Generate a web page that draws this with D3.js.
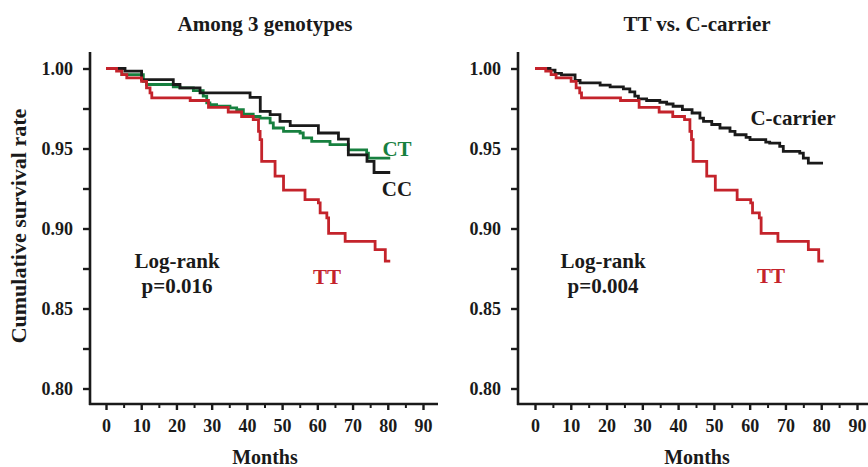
<!DOCTYPE html>
<html>
<head>
<meta charset="utf-8">
<script src="https://cdn.jsdelivr.net/npm/d3@7"></script>
<style>
  body { margin: 0; background: #fff; }
  text { font-family: "Liberation Serif", "Times New Roman", serif; font-weight: bold; fill: #1a1a1a; }
</style>
</head>
<body>
<svg id="chart" width="868" height="467"></svg>
<script>
// survival steps: [month, cumulative survival]
var ccSteps = [[0,1],[5.4,0.9983],[10.1,0.9931],[19.1,0.990],[21,0.9879],[26.7,0.9848],[40.9,0.982],
  [43.8,0.9732],[46.6,0.9712],[49.4,0.967],[52.3,0.9643],[60.3,0.9597],[66,0.9559],[68.8,0.946],
  [74.1,0.9419],[76.1,0.935],[80.7,0.935]];
var ctSteps = [[0,1],[4.5,0.9962],[10.6,0.992],[11.5,0.990],[19.1,0.9885],[21,0.9879],[24.8,0.9862],
  [27.6,0.9827],[28.6,0.9785],[29.5,0.9774],[31.4,0.9764],[35.2,0.9754],[37.1,0.9743],[39,0.9715],
  [41.8,0.970],[43.75,0.969],[46.6,0.966],[47.5,0.9628],[50.4,0.9607],[55.1,0.9597],[56,0.9566],
  [58.4,0.9545],[63.6,0.9524],[68.8,0.9492],[74,0.9471],[74.5,0.944],[80.7,0.944]];
var ttSteps = [[0,1],[3,0.9983],[4.5,0.9962],[5.9,0.9941],[10.1,0.992],[11.5,0.9879],[12.5,0.9848],
  [13,0.9816],[23.9,0.980],[29.1,0.9757],[34.7,0.9728],[38.5,0.970],[41.8,0.968],[43.3,0.9607],
  [43.75,0.9555],[44.2,0.942],[48,0.9327],[50.4,0.924],[56.5,0.918],[60.3,0.916],[60.8,0.9098],
  [62.7,0.9067],[63.2,0.897],[67.9,0.892],[76.4,0.8868],[79.3,0.8796],[80.7,0.8796]];
var carrierSteps = [[0,1],[4.2,0.999],[5.6,0.997],[7.4,0.996],[11.2,0.9925],[12.6,0.991],[18.2,0.9896],
  [21,0.9885],[24.7,0.9873],[26.5,0.9854],[27.9,0.9827],[28.9,0.981],[31.2,0.980],[34.9,0.9789],
  [36.8,0.9778],[38.6,0.9764],[41.2,0.9743],[43.9,0.9722],[46.1,0.969],[47.1,0.967],[49.4,0.965],
  [51.7,0.9628],[54.5,0.9607],[55.9,0.9586],[59,0.957],[60.1,0.9555],[64.5,0.954],[65.6,0.9534],
  [68.4,0.9513],[69.4,0.9482],[74,0.9471],[75,0.944],[76.4,0.9409],[80.5,0.9409]];

var xMajorTicks = [0,10,20,30,40,50,60,70,80,90];
var xMinorTicks = [5,15,25,35,45,55,65,75,85];
var yMajorTicks = [0.80,0.85,0.90,0.95,1.00];
var yMinorTicks = [0.825,0.875,0.925,0.975];

var red = "#c4232b", green = "#17803f", black = "#1a1a1a";

var svg = d3.select("#chart");

var y = d3.scaleLinear().domain([0.80, 1.00]).range([388.5, 68.5]);
var axisY = 404, axisTop = 52;

function panel(opt) {
  var x = d3.scaleLinear().domain([0, 90]).range(opt.xRange);
  var g = svg.append("g");

  // frame lines
  g.append("line").attr("x1", opt.axisX).attr("x2", opt.axisX)
    .attr("y1", axisTop).attr("y2", axisY + 1)
    .attr("stroke", black).attr("stroke-width", 2.6);
  g.append("line").attr("x1", opt.axisX - 1).attr("x2", opt.axisEnd)
    .attr("y1", axisY).attr("y2", axisY)
    .attr("stroke", black).attr("stroke-width", 2.6);

  // y axis ticks
  var ya = g.append("g").attr("transform", "translate(" + opt.axisX + ",0)")
    .call(d3.axisLeft(y).tickValues(yMajorTicks.concat(yMinorTicks)).tickSize(7)
      .tickFormat(function (d) { return yMajorTicks.indexOf(d) >= 0 ? d3.format(".2f")(d) : ""; }));
  ya.select(".domain").remove();
  ya.selectAll("line").attr("stroke", black).attr("stroke-width", 2.4);
  ya.selectAll("text").attr("x", -17).attr("dy", "0.35em").style("font-size", "18px")
    .attr("fill", black).style("font-family", "'Liberation Serif', serif");

  // x axis ticks
  var xa = g.append("g").attr("transform", "translate(0," + axisY + ")")
    .call(d3.axisBottom(x).tickValues(xMajorTicks).tickSize(6).tickPadding(9));
  xa.select(".domain").remove();
  xa.selectAll("line").attr("stroke", black).attr("stroke-width", 2.4);
  xa.selectAll("text").attr("dy", "0.72em").style("font-size", "18px")
    .attr("fill", black).style("font-family", "'Liberation Serif', serif");
  var xm = g.append("g").attr("transform", "translate(0," + axisY + ")")
    .call(d3.axisBottom(x).tickValues(xMinorTicks).tickSize(4).tickFormat(""));
  xm.select(".domain").remove();
  xm.selectAll("line").attr("stroke", black).attr("stroke-width", 2);

  var line = d3.line()
    .x(function (d) { return x(d[0]); })
    .y(function (d) { return y(d[1]); })
    .curve(d3.curveStepAfter);

  opt.series.forEach(function (s) {
    g.append("path").datum(s.data)
      .attr("d", line)
      .attr("fill", "none")
      .attr("stroke", s.color)
      .attr("stroke-width", 2.8)
      .attr("stroke-linejoin", "miter");
  });

  // titles and labels
  g.append("text").attr("x", opt.titleX).attr("y", 31).attr("text-anchor", "middle")
    .style("font-size", "21px").text(opt.title);
  g.append("text").attr("x", opt.titleX).attr("y", 464).attr("text-anchor", "middle")
    .style("font-size", "20px").text("Months");
  g.append("text").attr("x", opt.logX).attr("y", 268).attr("text-anchor", "middle")
    .style("font-size", "21px").text("Log-rank");
  g.append("text").attr("x", opt.logX).attr("y", 293).attr("text-anchor", "middle")
    .style("font-size", "21px").text(opt.p);

  opt.labels.forEach(function (l) {
    g.append("text").attr("x", l.x).attr("y", l.y).attr("text-anchor", "middle")
      .style("font-size", "21px").style("fill", l.color).text(l.text);
  });
}

panel({
  axisX: 90, axisEnd: 438, xRange: [106, 423],
  title: "Among 3 genotypes", titleX: 265, logX: 177, p: "p=0.016",
  series: [
    {data: ctSteps, color: green},
    {data: ccSteps, color: black},
    {data: ttSteps, color: red}
  ],
  labels: [
    {text: "CT", x: 397, y: 156, color: green},
    {text: "CC", x: 397, y: 196, color: black},
    {text: "TT", x: 327, y: 284, color: red}
  ]
});

panel({
  axisX: 518, axisEnd: 868, xRange: [535, 857],
  title: "TT vs. C-carrier", titleX: 697, logX: 603, p: "p=0.004",
  series: [
    {data: carrierSteps, color: black},
    {data: ttSteps, color: red}
  ],
  labels: [
    {text: "C-carrier", x: 793, y: 125, color: black},
    {text: "TT", x: 771, y: 283, color: red}
  ]
});

svg.append("text")
  .attr("transform", "translate(26,226) rotate(-90)")
  .attr("text-anchor", "middle")
  .style("font-size", "22px")
  .text("Cumulative survival rate");
</script>
</body>
</html>
